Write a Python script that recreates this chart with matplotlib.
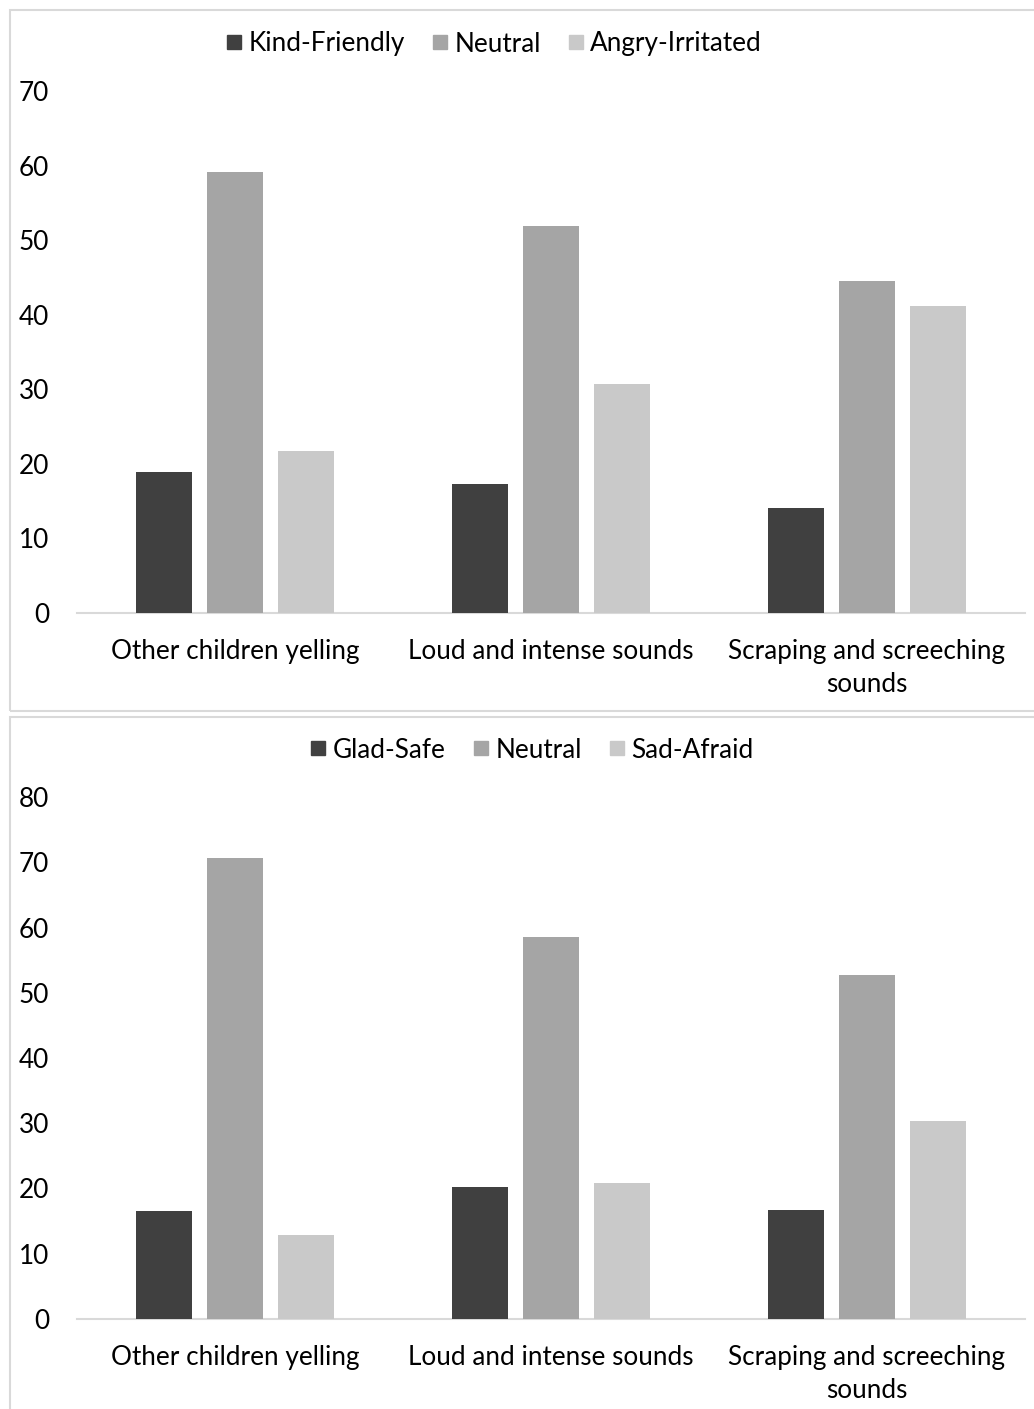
import matplotlib
matplotlib.use("Agg")
import matplotlib.pyplot as plt
from matplotlib.lines import Line2D
from matplotlib.patches import Rectangle

plt.rcParams['font.family'] = ['Lato', 'DejaVu Sans']

categories = ["Other children yelling", "Loud and intense sounds",
              "Scraping and screeching\nsounds"]

# Panel 1: friendliness ratings
series1_names = ["Kind-Friendly", "Neutral", "Angry-Irritated"]
kind_friendly = [18.9, 17.3, 14.1]
neutral_1 = [59.1, 51.9, 44.5]
angry_irritated = [21.7, 30.7, 41.2]
yticks_1 = [0, 10, 20, 30, 40, 50, 60, 70]

# Panel 2: safety ratings
series2_names = ["Glad-Safe", "Neutral", "Sad-Afraid"]
glad_safe = [16.5, 20.3, 16.7]
neutral_2 = [70.6, 58.5, 52.7]
sad_afraid = [12.9, 20.9, 30.3]
yticks_2 = [0, 10, 20, 30, 40, 50, 60, 70, 80]

colors = ["#404040", "#a5a5a5", "#c9c9c9"]

W, H = 1034, 1409
fig = plt.figure(figsize=(W / 100, H / 100), dpi=100)
fs = 18.8


def px_box(left, top, right, bottom):
    return [left / W, 1 - bottom / H, (right - left) / W, (bottom - top) / H]


def draw_panel(ax, series, names, yticks, legend_center):
    bw = 0.177
    step = 0.224
    x = list(range(len(categories)))
    for i, (vals, c) in enumerate(zip(series, colors)):
        ax.bar([xi + (i - 1) * step for xi in x], vals, width=bw, color=c,
               zorder=3)
    ax.set_xlim(-0.5, len(categories) - 0.5)
    ax.set_ylim(yticks[0], yticks[-1])
    ax.set_yticks(yticks)
    ax.set_xticks(x)
    ax.set_xticklabels(categories, fontsize=fs, linespacing=1.4)
    ax.tick_params(axis='y', length=0, pad=20, labelsize=fs)
    ax.tick_params(axis='x', length=0, pad=19)
    for s in ['top', 'right', 'left']:
        ax.spines[s].set_visible(False)
    ax.spines['bottom'].set_color('#d9d9d9')
    ax.spines['bottom'].set_linewidth(1.5)
    handles = [Line2D([], [], marker='s', linestyle='none', markersize=10,
                      markerfacecolor=c, markeredgecolor=c) for c in colors]
    fig.legend(handles, names, loc='center', ncol=3,
               bbox_to_anchor=(legend_center[0] / W, 1 - legend_center[1] / H),
               frameon=False, fontsize=fs, handlelength=0.6,
               handletextpad=0.25, columnspacing=1.05)


ax1 = fig.add_axes(px_box(77, 91, 1025, 613))
draw_panel(ax1, [kind_friendly, neutral_1, angry_irritated], series1_names,
           yticks_1, (494, 44))

ax2 = fig.add_axes(px_box(77, 797, 1025, 1319))
draw_panel(ax2, [glad_safe, neutral_2, sad_afraid], series2_names,
           yticks_2, (532, 750))

# Chart-area frames
for top, bottom in [(10, 711), (717, 1430)]:
    fig.add_artist(Rectangle((10 / W, 1 - bottom / H), (1060 - 10) / W,
                             (bottom - top) / H, transform=fig.transFigure,
                             fill=False, edgecolor='#d9d9d9', linewidth=1.5,
                             clip_on=False))

fig.savefig("out.png", dpi=100, facecolor='white')
